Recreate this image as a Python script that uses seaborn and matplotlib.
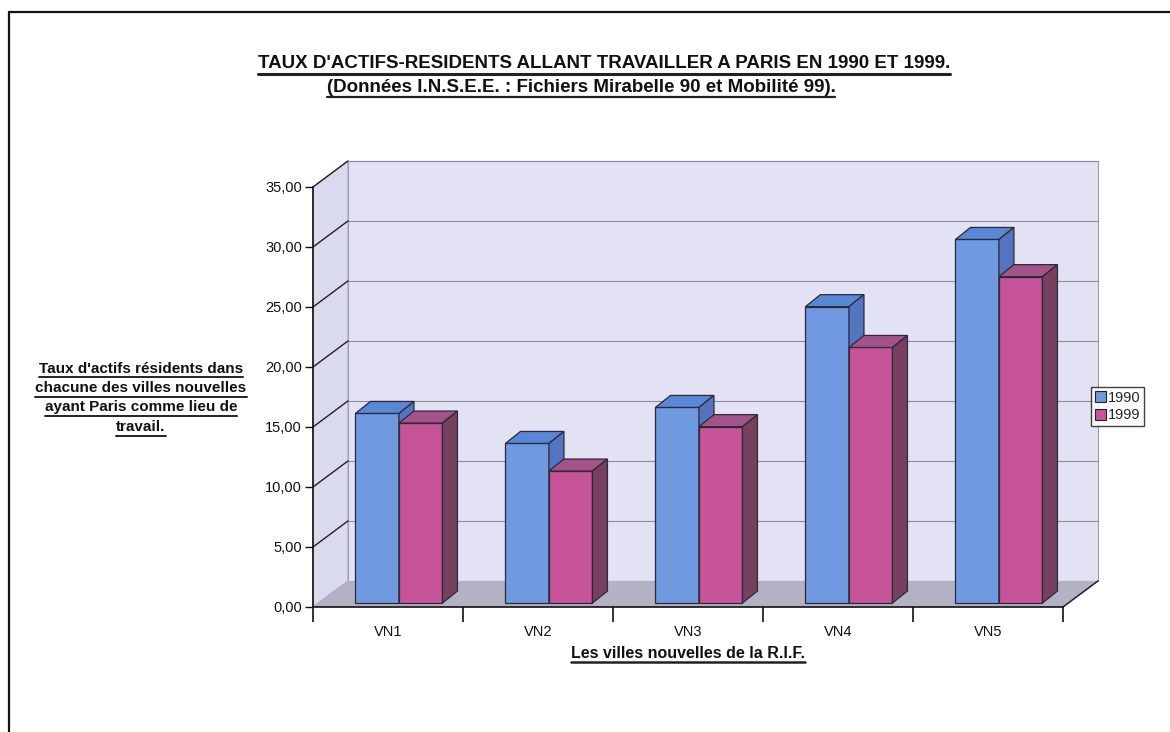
import seaborn as sns
import matplotlib.pyplot as plt
import pandas as pd
from matplotlib.patches import Polygon, Patch
from matplotlib.lines import Line2D

# data
villes = ['VN1', 'VN2', 'VN3', 'VN4', 'VN5']
annees = ['1990', '1999']
taux_1990 = [15.8, 13.3, 16.3, 24.7, 30.3]
taux_1999 = [15.0, 11.0, 14.7, 21.3, 27.2]
y_ticks = [0, 5, 10, 15, 20, 25, 30, 35]

df = pd.DataFrame({
    'ville': villes * 2,
    'annee': [annees[0]] * len(villes) + [annees[1]] * len(villes),
    'taux': taux_1990 + taux_1999,
})

sns.set_style('white')
plt.rcParams['font.family'] = ['Liberation Sans', 'DejaVu Sans']

W, H = 1170, 732
fig = plt.figure(figsize=(W / 100, H / 100), dpi=100)
ax = fig.add_axes([313 / W, 1 - 607 / H, 750 / W, 420 / H])
ax.set_facecolor('none')

face = {'1990': '#6f9ae0', '1999': '#c75398'}
top = {'1990': '#5a86d6', '1999': '#a4528a'}
side = {'1990': '#5474c0', '1999': '#76405e'}
edge = '#2a2a38'

sns.barplot(data=df, x='ville', y='taux', hue='annee', hue_order=annees,
            palette=face, width=0.58, saturation=1, edgecolor=edge,
            linewidth=0.9, legend=False, ax=ax)
bars = list(ax.patches)

ax.set_xlim(-0.5, len(villes) - 0.5)
ax.set_ylim(y_ticks[0], y_ticks[-1])
xl, xr = ax.get_xlim()
yb, yt = ax.get_ylim()

# fake 3D box: back wall, left wall, floor
wx, wy = 0.233, 2.17
ax.add_patch(Polygon([(xl + wx, wy), (xr + wx, wy), (xr + wx, yt + wy), (xl + wx, yt + wy)],
                     fc='#e2e2f4', ec='#9a9aaa', lw=0.8, zorder=0.3, clip_on=False))
ax.add_patch(Polygon([(xl, yb), (xl + wx, wy), (xl + wx, yt + wy), (xl, yt)],
                     fc='#dadaee', ec='#a8a8b8', lw=0.8, zorder=0.35, clip_on=False))
ax.add_patch(Polygon([(xl, yb), (xr, yb), (xr + wx, wy), (xl + wx, wy)],
                     fc='#b2b2c4', ec='none', zorder=0.4, clip_on=False))
ax.plot([xr, xr + wx], [yb, wy], color='#222222', lw=1.1, zorder=0.6, clip_on=False)
for v in y_ticks[1:]:
    ax.plot([xl + wx, xr + wx], [v + wy, v + wy], color='#8c8c9a', lw=0.8,
            zorder=0.5, clip_on=False)
    ax.plot([xl, xl + wx], [v, v + wy], color='#222222', lw=1.0,
            zorder=0.5, clip_on=False)

# bars sit mid-depth on the floor, with top and side faces
sx, sy = 0.073, 0.33
bx, by = 0.1, 1.0
n = len(villes)
order = sorted(range(len(bars)), key=lambda k: bars[k].get_x())
for rank, k in enumerate(order):
    p = bars[k]
    an = annees[k // n]
    p.set_x(p.get_x() + sx)
    p.set_y(p.get_y() + sy)
    z = 2 + rank * 0.1
    p.set_zorder(z)
    x0, w = p.get_x(), p.get_width()
    y0, y1 = p.get_y(), p.get_y() + p.get_height()
    ax.add_patch(Polygon([(x0, y1), (x0 + w, y1), (x0 + w + bx, y1 + by), (x0 + bx, y1 + by)],
                         fc=top[an], ec=edge, lw=0.9, zorder=z + 0.01, clip_on=False))
    ax.add_patch(Polygon([(x0 + w, y0), (x0 + w + bx, y0 + by), (x0 + w + bx, y1 + by), (x0 + w, y1)],
                         fc=side[an], ec=edge, lw=0.9, zorder=z + 0.01, clip_on=False))

# axes
sns.despine(ax=ax)
ax.spines['left'].set_color('#111111')
ax.spines['bottom'].set_color('#111111')
ax.spines['left'].set_linewidth(1.2)
ax.spines['bottom'].set_linewidth(1.2)
ax.set_yticks(y_ticks)
ax.set_yticklabels([f'{v:.2f}'.replace('.', ',') for v in y_ticks])
ax.set_xticks(range(n))
ax.set_xticklabels(villes)
ax.set_xticks([i - 0.5 for i in range(n + 1)], minor=True)
ax.tick_params(axis='y', left=True, length=6, width=1, color='#111111',
               labelsize=10.5, pad=2, labelcolor='#111111')
ax.tick_params(axis='x', which='major', bottom=True, length=0, labelsize=10.5,
               pad=13, labelcolor='#111111')
ax.tick_params(axis='x', which='minor', bottom=True, length=11, width=1.2, color='#111111')
ax.set_xlabel('')
ax.set_ylabel('')

# texts
t1 = fig.text(604 / W, 1 - 64 / H, "TAUX D'ACTIFS-RESIDENTS ALLANT TRAVAILLER A PARIS EN 1990 ET 1999.",
              ha='center', va='center', fontsize=13.5, fontweight='bold', color='#111111')
t2 = fig.text(581 / W, 1 - 87 / H, "(Données I.N.S.E.E. : Fichiers Mirabelle 90 et Mobilité 99).",
              ha='center', va='center', fontsize=13.5, fontweight='bold', color='#111111')
ylab_lines = ["Taux d'actifs résidents dans", "chacune des villes nouvelles",
              "ayant Paris comme lieu de", "travail."]
ylab_y = [369, 388, 407, 427]
ytexts = [fig.text(141 / W, 1 - yy / H, s, ha='center', va='center',
                   fontsize=11, fontweight='bold', color='#111111')
          for s, yy in zip(ylab_lines, ylab_y)]
t3 = fig.text(688 / W, 1 - 653 / H, 'Les villes nouvelles de la R.I.F.',
              ha='center', va='center', fontsize=11.5, fontweight='bold', color='#111111')

leg = fig.legend(handles=[Patch(fc=face[a], ec='#222222', lw=0.8) for a in annees],
                 labels=annees, loc='upper left', bbox_to_anchor=(1091 / W, 1 - 387 / H),
                 frameon=True, fancybox=False, edgecolor='#111111', fontsize=10.5,
                 handlelength=0.75, handleheight=0.75, handletextpad=0.15,
                 borderpad=0.25, labelspacing=0.25, borderaxespad=0)
leg.get_frame().set_linewidth(1.0)

# underlines
fig.canvas.draw()
r = fig.canvas.get_renderer()


def underline(t, lw, gap=1.5):
    bb = t.get_window_extent(r)
    y = (bb.y0 - gap) / H
    fig.add_artist(Line2D([bb.x0 / W, bb.x1 / W], [y, y], transform=fig.transFigure,
                          color='#222222', lw=lw))


underline(t1, 2.2)
underline(t2, 1.6)
for t in ytexts:
    underline(t, 1.4)
underline(t3, 1.8)

# page frame
fig.add_artist(Line2D([9 / W, 9 / W], [0, 1 - 12 / H], transform=fig.transFigure, color='#111111', lw=1.6))
fig.add_artist(Line2D([9 / W, 1], [1 - 12 / H, 1 - 12 / H], transform=fig.transFigure, color='#111111', lw=1.6))

fig.savefig('out.png', dpi=100)
